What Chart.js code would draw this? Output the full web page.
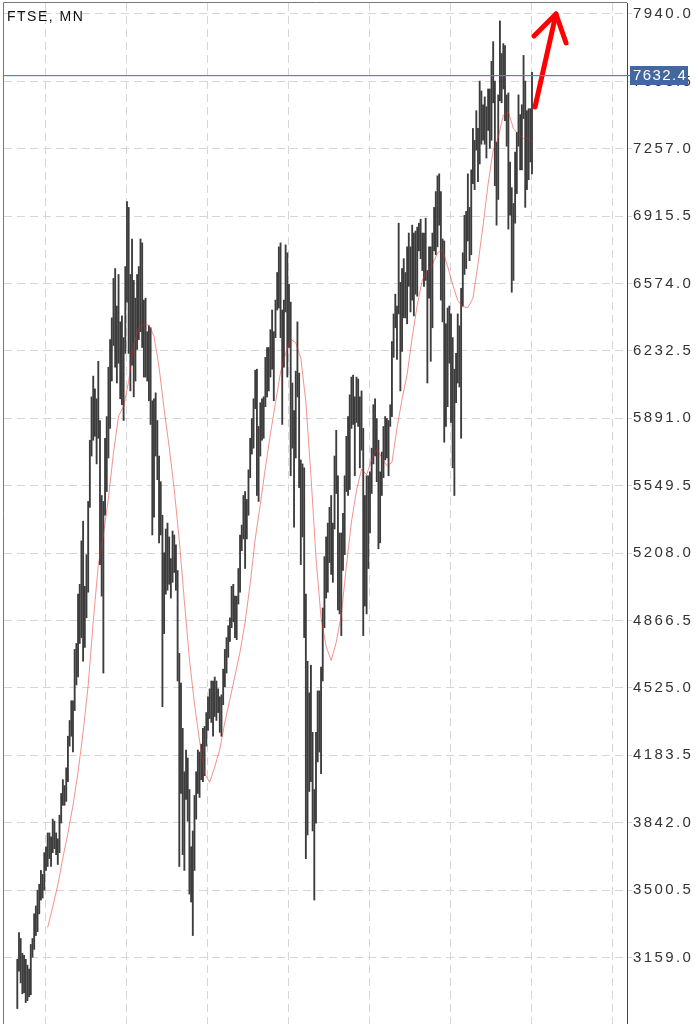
<!DOCTYPE html>
<html>
<head>
<meta charset="utf-8">
<script src="https://cdn.jsdelivr.net/npm/chart.js@4.4.1/dist/chart.umd.min.js"></script>
<style>
  html, body { margin: 0; padding: 0; background: #fff; }
  canvas { display: block; }
</style>
</head>
<body>
<canvas id="chart" width="698" height="1024"></canvas>
<script>
const symbol = "FTSE, MN";
const lastPrice = 7632.4;

// monthly bars, Jul 1994 .. Dec 2019 (bar index 0 = Jul 1994)
const highs = [
  3150, 3285, 3255, 3180, 3170, 3150,
  3120, 3100, 3225, 3255, 3380, 3420, 3500, 3530, 3600, 3580, 3690, 3720,
  3790, 3790, 3770, 3860, 3850, 3790, 3760, 3880, 3990, 4060, 4030, 4120,
  4280, 4360, 4460, 4460, 4720, 4750, 5000, 5050, 5270, 5370, 5040, 5200,
  5470, 5780, 6000, 6105, 6040, 5990, 6180, 5880, 5500, 5470, 5790, 5900,
  6150, 6290, 6400, 6600, 6650, 6460, 6620, 6380, 6410, 6300, 6660, 6990,
  6960, 6620, 6800, 6590, 6500, 6620, 6660, 6800, 6780, 6490, 6500, 6330,
  6360, 6350, 5980, 5990, 6020, 5880, 5700, 5570, 5400, 5210, 5330, 5360,
  5290, 5180, 5320, 5300, 5250, 5120, 4700, 4550, 4320, 4100, 4210, 4170,
  4010, 3720, 3800, 3980, 4100, 4210, 4200, 4240, 4320, 4330, 4400, 4480,
  4520, 4560, 4560, 4580, 4560, 4520, 4480, 4490, 4620, 4720, 4780, 4840,
  4880, 5040, 5050, 4990, 4990, 5130, 5300, 5350, 5500, 5520, 5480, 5630,
  5790, 5890, 5990, 6135, 6140, 5850, 5970, 5990, 6000, 6200, 6250, 6250,
  6340, 6440, 6330, 6490, 6630, 6760, 6780, 6440, 6490, 6770, 6730, 6570,
  6480, 6070, 5930, 6130, 6380, 6120, 5680, 5660, 5640, 5000, 4660, 4500,
  4640, 4300, 4010, 4300, 4510, 4510, 4630, 4930, 5190, 5290, 5360, 5440,
  5500, 5360, 5700, 5830, 5600, 5310, 5310, 5410, 5600, 5800, 5900, 6010,
  6100, 6110, 6000, 6100, 6090, 6000, 6030, 5840, 5500, 5600, 5600, 5620,
  5740, 5960, 5990, 5890, 5780, 5620, 5720, 5850, 5900, 5890, 5880, 5960,
  6280, 6420, 6520, 6460, 6880, 6580, 6650, 6700, 6630, 6760, 6830, 6760,
  6870, 6830, 6840, 6860, 6880, 6900, 6830, 6830, 6905, 6640, 6760, 6760,
  6830, 6960, 7040, 7120, 7130, 7040, 6800, 6790, 6370, 6450, 6460, 6420,
  6300, 6140, 6220, 6420, 6360, 6550, 6730, 6920, 6940, 7130, 6960, 7150,
  7360, 7300, 7450, 7360, 7600, 7550, 7480, 7520, 7470, 7560, 7560, 7700,
  7800, 7600, 7290, 7530, 7905, 7740, 7790, 7780, 7530, 7540, 7190, 7060,
  6980, 7240, 7340, 7530, 7430, 7480, 7730, 7600, 7450, 7460, 7460, 7645
];
const lows = [
  2900, 3090, 3030, 2975, 2980, 2930,
  2940, 2960, 2970, 3160, 3200, 3270, 3290, 3380, 3450, 3460, 3500, 3600,
  3620, 3660, 3620, 3690, 3710, 3680, 3630, 3690, 3840, 3930, 3930, 3950,
  4050, 4230, 4280, 4200, 4410, 4540, 4580, 4750, 4780, 4660, 4730, 4880,
  5010, 5440, 5700, 5780, 5800, 5660, 5790, 5150, 4990, 4600, 5400, 5520,
  5690, 5840, 6080, 6260, 6150, 6070, 6170, 5990, 5960, 5880, 6220, 6480,
  6220, 6030, 6160, 6000, 6080, 6240, 6290, 6330, 6250, 6100, 6100, 6080,
  5980, 5860, 5300, 5390, 5700, 5580, 5260, 5300, 4430, 4800, 5000, 5020,
  5050, 4980, 5060, 5110, 5020, 4560, 3620, 3990, 3680, 3600, 3960, 3850,
  3480, 3440, 3270, 3600, 3860, 3990, 3970, 4060, 4050, 4080, 4230, 4310,
  4370, 4350, 4280, 4380, 4360, 4400, 4300, 4280, 4440, 4530, 4600, 4680,
  4760, 4830, 4860, 4780, 4770, 4950, 5010, 5220, 5280, 5130, 5280, 5400,
  5590, 5710, 5740, 5940, 5500, 5470, 5700, 5780, 5790, 5950, 6000, 6030,
  6100, 6140, 5980, 6300, 6440, 6450, 6300, 5860, 6150, 6430, 6100, 6250,
  5600, 5740, 5340, 5690, 6000, 5540, 5150, 5290, 4780, 3660, 3780, 4000,
  4050, 3800, 3450, 3840, 4150, 4200, 4090, 4560, 4830, 4980, 5010, 5160,
  5100, 5060, 5330, 5510, 4920, 4900, 4790, 5120, 5200, 5520, 5500, 5530,
  5840, 5860, 5600, 5870, 5850, 5640, 5730, 4790, 4940, 4900, 5130, 5310,
  5510, 5660, 5700, 5570, 5230, 5260, 5500, 5590, 5680, 5690, 5600, 5850,
  5900, 6200, 6350, 6190, 6420, 6030, 6230, 6400, 6400, 6370, 6560, 6430,
  6490, 6410, 6520, 6510, 6740, 6700, 6640, 6560, 6590, 6070, 6500, 6180,
  6350, 6740, 6720, 6760, 6870, 6490, 6380, 5770, 5850, 5950, 6170, 5870,
  5640, 5500, 5970, 6070, 6050, 5790, 6460, 6620, 6650, 6790, 6690, 6720,
  7080, 7050, 7250, 7090, 7180, 7280, 7300, 7280, 7210, 7350, 7260, 7300,
  7490, 7070, 6870, 7000, 7500, 7490, 7560, 7400, 7270, 6850, 6920, 6530,
  6590, 6880, 7030, 7270, 7150, 7150, 7410, 6960, 7050, 7100, 7190, 7130
];

// moving average read every third bar
const maIndex = [
  18, 21, 24, 27, 30, 33, 36, 39, 42, 45, 48, 51, 54, 57, 60, 63, 66, 69, 72, 75,
  78, 81, 84, 87, 90, 93, 96, 99, 102, 105, 108, 111, 114, 117, 120, 123, 126, 129, 132, 135,
  138, 141, 144, 147, 150, 153, 156, 159, 162, 165, 168, 171, 174, 177, 180, 183, 186, 189, 192, 195,
  198, 201, 204, 207, 210, 213, 216, 219, 222, 225, 228, 231, 234, 237, 240, 243, 246, 249, 252, 255,
  258, 261, 264, 267, 270, 273, 276, 279, 282, 285, 288, 291, 294, 297, 300, 303, 305
];
const maValues = [
  3311, 3415, 3527, 3663, 3789, 3930, 4098, 4301, 4538, 4862, 5149, 5299, 5487, 5716, 5902, 5952, 6078, 6264, 6348, 6369,
  6363, 6307, 6150, 5938, 5746, 5531, 5272, 4964, 4670, 4443, 4257, 4090, 4047, 4124, 4214, 4351, 4469, 4587, 4707, 4858,
  5052, 5281, 5454, 5640, 5813, 5970, 6125, 6220, 6292, 6274, 6197, 5974, 5601, 5185, 4879, 4736, 4664, 4756, 4895, 5142,
  5365, 5525, 5634, 5605, 5683, 5734, 5692, 5651, 5667, 5841, 5989, 6113, 6301, 6465, 6591, 6635, 6669, 6729, 6745, 6661,
  6570, 6488, 6456, 6453, 6499, 6673, 6868, 7078, 7250, 7315, 7428, 7444, 7359, 7329, 7309, 7312, 7294
];

const yTicks = [3159.0, 3500.5, 3842.0, 4183.5, 4525.0, 4866.5, 5208.0, 5549.5,
  5891.0, 6232.5, 6574.0, 6915.5, 7257.0, 7598.5, 7940.0];
const gridBars = [17, 65, 113, 161, 209, 257, 305, 353];

// hand drawn arrow, in (bar index, price)
const arrowShaft = [[306.8, 7469], [319.2, 7940]];
const arrowHead = [[306.2, 7828], [319.2, 7940], [325.2, 7793]];

const labelFont = "15px 'Liberation Sans', Arial, sans-serif";

const overlay = {
  id: "overlay",
  beforeDraw(chart) {
    chart.ctx.letterSpacing = "2.4px";
  },
  afterDatasetsDraw(chart) {
    const { ctx, scales: { x, y } } = chart;
    ctx.save();
    ctx.strokeStyle = "#ff0000";
    ctx.lineWidth = 5;
    ctx.lineCap = "round";
    ctx.lineJoin = "round";
    ctx.beginPath();
    arrowShaft.forEach((p, i) => {
      const px = x.getPixelForValue(p[0]), qy = y.getPixelForValue(p[1]);
      if (i === 0) ctx.moveTo(px, qy); else ctx.lineTo(px, qy);
    });
    ctx.stroke();
    ctx.beginPath();
    arrowHead.forEach((p, i) => {
      const px = x.getPixelForValue(p[0]), qy = y.getPixelForValue(p[1]);
      if (i === 0) ctx.moveTo(px, qy); else ctx.lineTo(px, qy);
    });
    ctx.stroke();
    ctx.restore();
  },
  afterDraw(chart) {
    const { ctx, chartArea: a, scales: { y } } = chart;
    ctx.save();
    // frame left and top
    ctx.strokeStyle = "#777";
    ctx.lineWidth = 1;
    ctx.beginPath();
    ctx.moveTo(a.left - 0.5, chart.height);
    ctx.lineTo(a.left - 0.5, a.top - 0.5);
    ctx.lineTo(a.right, a.top - 0.5);
    ctx.stroke();

    // current price line and label
    const py = Math.round(y.getPixelForValue(lastPrice));
    ctx.fillStyle = "#5b82c0";
    ctx.fillRect(a.left, py, a.right + 3 - a.left, 1.2);
    ctx.fillStyle = "#43689f";
    ctx.fillRect(a.right + 3, py - 9, 58, 19);
    ctx.fillStyle = "#fff";
    ctx.font = labelFont;
    ctx.letterSpacing = "1.4px";
    ctx.textBaseline = "middle";
    ctx.fillText(lastPrice.toFixed(1), a.right + 6, py + 1);

    // symbol title
    ctx.fillStyle = "#111";
    ctx.font = "14px 'Liberation Sans', Arial, sans-serif";
    ctx.letterSpacing = "1.5px";
    ctx.textBaseline = "alphabetic";
    ctx.fillText(symbol, a.left + 3, 21);
    ctx.restore();
  }
};

new Chart(document.getElementById("chart"), {
  type: "bar",
  data: {
    datasets: [
      {
        type: "line",
        label: "MA",
        data: maIndex.map((v, i) => ({ x: v, y: maValues[i] })),
        borderColor: "rgba(232, 40, 30, 0.5)",
        borderWidth: 1,
        pointRadius: 0,
        tension: 0,
        order: 0
      },
      {
        type: "bar",
        label: "FTSE",
        data: highs.map((h, i) => ({ x: i, y: [lows[i], h] })),
        backgroundColor: "#3c3c3c",
        barThickness: 1.2,
        grouped: false,
        order: 1
      }
    ]
  },
  options: {
    responsive: false,
    animation: false,
    events: [],
    layout: { padding: { left: 4, top: 3, right: 0, bottom: 0 } },
    plugins: { legend: { display: false }, tooltip: { enabled: false } },
    scales: {
      x: {
        type: "linear",
        min: -7.88,
        max: 361.3,
        offset: false,
        afterBuildTicks: (s) => { s.ticks = gridBars.map((v) => ({ value: v })); },
        afterFit: (s) => { s.height = 0; s.paddingLeft = 0; s.paddingRight = 0; },
        ticks: { display: false },
        grid: { color: "#d6d6d6", drawTicks: false, offset: false },
        border: { display: false, dash: [8, 5] }
      },
      y: {
        position: "right",
        min: 2821.8,
        max: 7995.7,
        afterBuildTicks: (s) => { s.ticks = yTicks.map((v) => ({ value: v })); },
        afterFit: (s) => { s.width = 71; s.paddingTop = 0; s.paddingBottom = 0; },
        ticks: {
          callback: (v) => Number(v).toFixed(1),
          color: "#333",
          padding: 1,
          font: { family: "'Liberation Sans', Arial, sans-serif", size: 15 }
        },
        grid: { color: "#d6d6d6", tickLength: 5 },
        border: { display: true, color: "#444", width: 1, dash: [8, 5] }
      }
    }
  },
  plugins: [overlay]
});
</script>
</body>
</html>
